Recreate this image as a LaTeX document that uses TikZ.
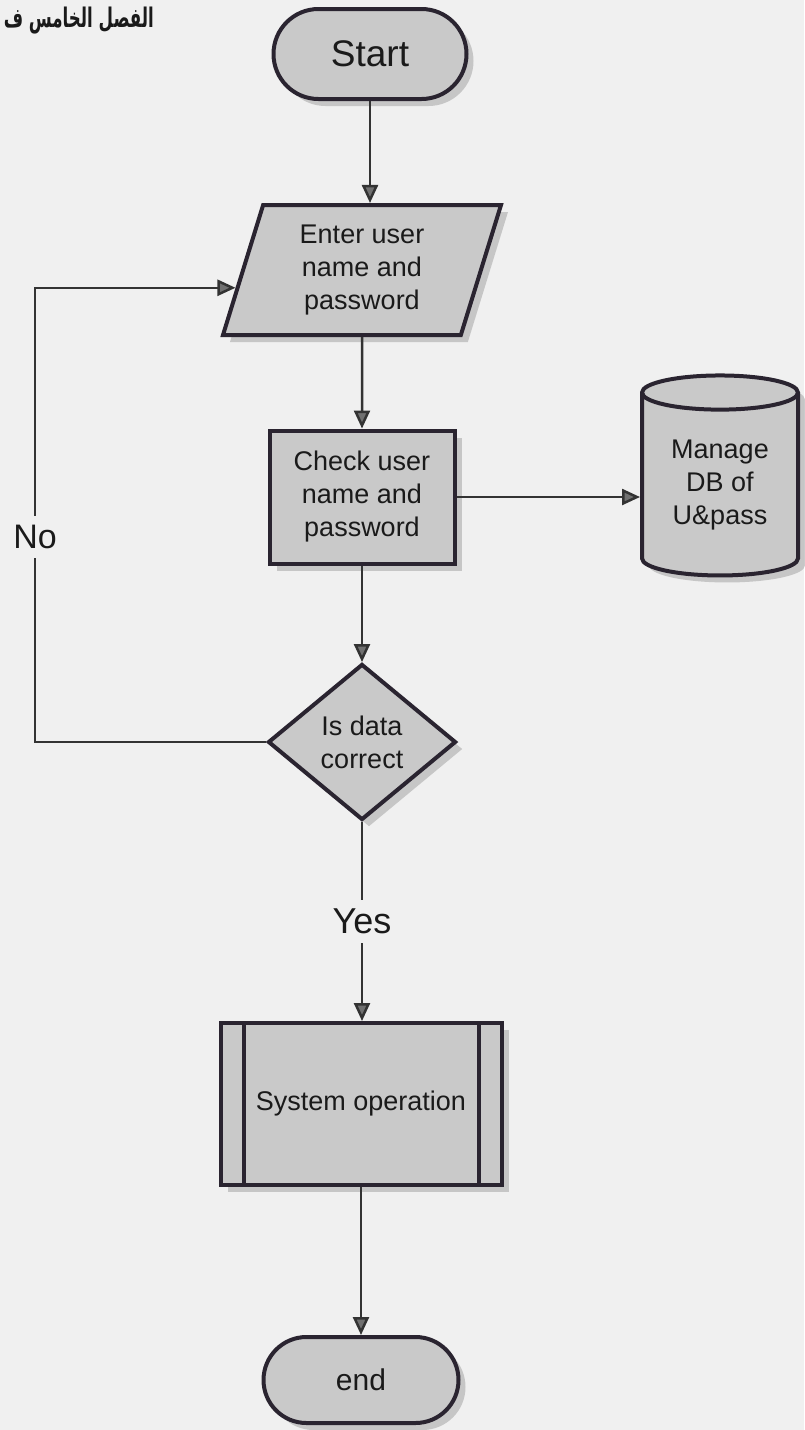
\documentclass[tikz,border=0pt]{standalone}
\usepackage{fontspec}
\usepackage{graphicx}
\setmainfont{Liberation Sans}
\newfontfamily\arabicfont[Script=Arabic]{DejaVu Sans}
\TeXXeTstate=1
\usetikzlibrary{shapes.geometric,shapes.misc,arrows.meta,shadows}

\definecolor{paper}{HTML}{F0F0F0}
\definecolor{shapefill}{HTML}{C9C9C9}
\definecolor{edge}{HTML}{2A2430}
\definecolor{wire}{HTML}{333333}
\definecolor{tipfill}{HTML}{707070}
\definecolor{ink}{HTML}{1A1A1A}
\definecolor{shade}{HTML}{B5B5B5}

\tikzset{
  box/.style={draw=edge, line width=4pt, fill=shapefill, text=ink, align=center,
    font=\fontsize{27}{33}\selectfont, inner sep=0pt,
    drop shadow={shadow xshift=7pt, shadow yshift=-7pt, fill=shade, opacity=0.7}},
  termbox/.style={box, rounded rectangle},
  conn/.style={draw=wire, line width=2.5pt, -{Triangle[length=18pt,width=16pt,fill=tipfill]}},
  lbl/.style={fill=paper, text=ink, inner sep=9pt},
  sideline/.style={draw=edge, line width=4pt}
}

\begin{document}
\begin{tikzpicture}[x=1pt,y=-1pt]
\useasboundingbox (0,0) rectangle (804,1430);
\fill[paper] (0,0) rectangle (804,1430);

\node[anchor=east, text=ink, inner sep=0pt, font=\arabicfont\bfseries\fontsize{27}{30}\selectfont] (hdr) at (154,21) {\resizebox{150pt}{\height}{\beginR الفصل الخامس ف\endR}};

\node[termbox, minimum width=193pt, minimum height=90pt, font=\fontsize{37}{40}\selectfont] (start) at (370,54) {Start};

\node[box, trapezium, trapezium left angle=66, trapezium right angle=114, trapezium stretches body,
      minimum width=278pt, minimum height=130pt] (inp) at (362,270) {Enter user\\name and\\password};

\node[box, rectangle, minimum width=185pt, minimum height=133pt] (chk) at (362,497) {Check user\\name and\\password};

\node[box, cylinder, shape border rotate=90, aspect=0.35, minimum width=156pt, minimum height=200pt] (db) at (720,485) {Manage\\DB of\\U\&pass};

\node[box, diamond, minimum width=188pt, minimum height=156pt] (dec) at (362,742) {Is data\\correct};

\node[box, rectangle, minimum width=281pt, minimum height=162pt] (sys) at (361,1104) {System operation};
\draw[sideline] ([xshift=25pt]sys.north west) -- ([xshift=25pt]sys.south west);
\draw[sideline] ([xshift=-25pt]sys.north east) -- ([xshift=-25pt]sys.south east);

\node[termbox, minimum width=195pt, minimum height=86pt, font=\fontsize{30}{34}\selectfont] (end) at (361,1380) {end};

\draw[conn] (start.south) -- (start.south |- inp.north);
\draw[conn] (inp.south) -- (chk.north);
\draw[conn] (chk.east) -- (db.west |- chk.east);
\draw[conn] (chk.south) -- (dec.north);

\coordinate (nl) at (35,0);
\draw[conn] (dec.west) -| (nl |- inp.188) -- (inp.188);
\node[lbl, font=\fontsize{34}{38}\selectfont] (no) at (35,537) {No};

\draw[conn] (dec.south) -- node[lbl, font=\fontsize{36}{40}\selectfont] (yes) {Yes} (dec.south |- sys.north);
\draw[conn] (sys.south) -- (end.north);
\end{tikzpicture}
\end{document}
